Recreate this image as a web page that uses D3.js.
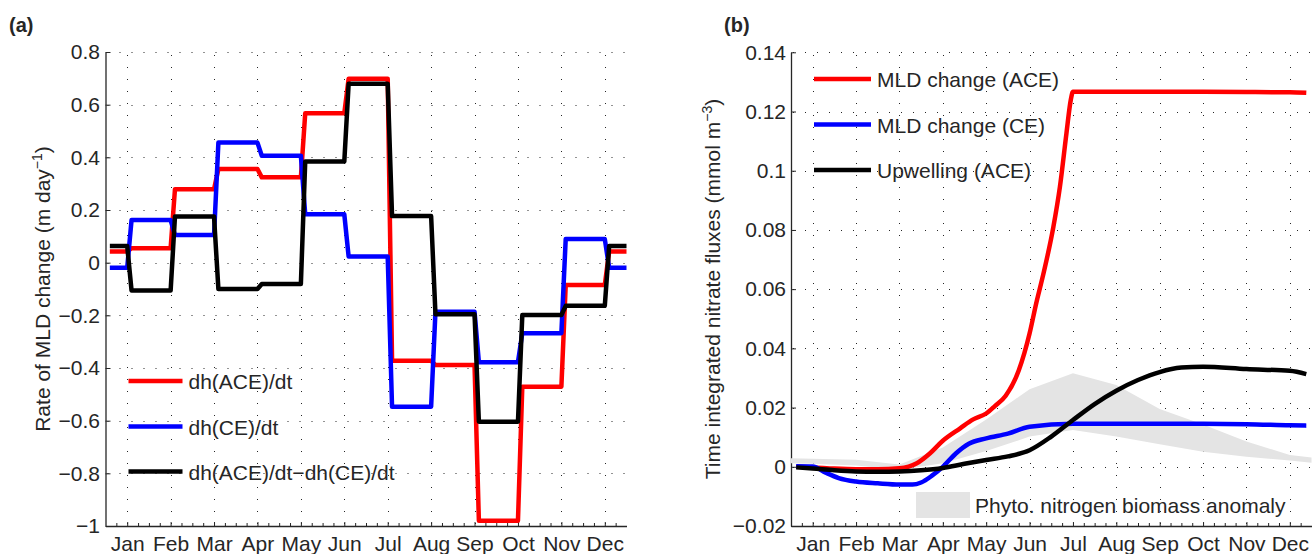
<!DOCTYPE html>
<html>
<head>
<meta charset="utf-8">
<script src="https://cdn.jsdelivr.net/npm/d3@7"></script>
<style>
  html, body { margin: 0; padding: 0; background: #ffffff; }
  svg { display: block; font-family: "Liberation Sans", Arial, Helvetica, sans-serif; }
</style>
</head>
<body>
<svg id="fig" width="1316" height="554"></svg>
<script>
// ---------- shared month axis ----------
const monthLabels = ["Jan", "Feb", "Mar", "Apr", "May", "Jun", "Jul", "Aug", "Sep", "Oct", "Nov", "Dec"];
const monthTicks = [1, 2, 3, 4, 5, 6, 7, 8, 9, 10, 11, 12];

// ---------- panel (a): rate of MLD change, piecewise-constant between month centres ----------
// index 0 = before Jan centre, 1..11 = Jan-Feb ... Nov-Dec, 12 = after Dec centre
const rateTicks = [-1, -0.8, -0.6, -0.4, -0.2, 0, 0.2, 0.4, 0.6, 0.8];
const rateTickLabels = ["\u22121", "\u22120.8", "\u22120.6", "\u22120.4", "\u22120.2", "0", "0.2", "0.4", "0.6", "0.8"];
const rateACE  = [0.042, 0.055, 0.279, 0.356, 0.324, 0.567, 0.698, -0.372, -0.389, -0.980, -0.471, -0.085, 0.042];
const rateCE   = [-0.019, 0.162, 0.105, 0.456, 0.406, 0.184, 0.023, -0.547, -0.186, -0.378, -0.268, 0.090, -0.019];
const rateDiff = [0.063, -0.106, 0.175, -0.100, -0.081, 0.384, 0.679, 0.177, -0.196, -0.604, -0.199, -0.164, 0.063];
const rateNames = ["dh(ACE)/dt", "dh(CE)/dt", "dh(ACE)/dt\u2212dh(CE)/dt"];

// ---------- panel (b): time integrated nitrate fluxes ----------
const fluxTicks = [-0.02, 0, 0.02, 0.04, 0.06, 0.08, 0.1, 0.12, 0.14];
const fluxTickLabels = ["\u22120.02", "0", "0.02", "0.04", "0.06", "0.08", "0.1", "0.12", "0.14"];

const mldAceMonth = [0.62, 1.0, 1.5, 2.0, 2.5, 3.0, 3.4, 3.7, 4.0, 4.4, 4.7, 5.0, 5.2, 5.45, 5.75, 6.0, 6.15, 6.3, 6.55, 6.7, 6.85, 6.95, 7.0, 8, 9, 10, 11, 12, 12.38];
const mldAceFlux  = [0.0, -0.0002, -0.0006, -0.0008, -0.0008, -0.0005, 0.0012, 0.0045, 0.0088, 0.0130, 0.0160, 0.0180, 0.0205, 0.0240, 0.0325, 0.0450, 0.0550, 0.0640, 0.0811, 0.0946, 0.1126, 0.1239, 0.1267, 0.1267, 0.1267, 0.1267, 0.1266, 0.1265, 0.1263];

const mldCeMonth = [0.62, 1.0, 1.3, 1.6, 2.0, 2.5, 3.0, 3.3, 3.5, 3.75, 4.0, 4.3, 4.6, 5.0, 5.5, 6.0, 7.0, 8, 9, 10, 11, 12, 12.38];
const mldCeFlux  = [0.0002, 0.0001, -0.0020, -0.0038, -0.0050, -0.0056, -0.0060, -0.0060, -0.0053, -0.0030, 0.0000, 0.0045, 0.0078, 0.0096, 0.0112, 0.0135, 0.0145, 0.0145, 0.0145, 0.0145, 0.0144, 0.0140, 0.0139];

const upwAceMonth = [0.62, 1.0, 1.5, 2.0, 2.5, 3.0, 3.5, 4.0, 4.5, 5.0, 5.5, 6.0, 6.5, 7.0, 7.5, 8.0, 8.5, 9.0, 9.5, 10, 11, 12, 12.38];
const upwAceFlux  = [-0.0002, -0.0006, -0.0012, -0.0016, -0.0017, -0.0016, -0.0012, -0.0004, 0.0010, 0.0023, 0.0035, 0.0056, 0.0102, 0.0158, 0.0212, 0.0257, 0.0293, 0.0320, 0.0335, 0.0338, 0.0330, 0.0324, 0.0313];

// phytoplankton nitrogen biomass anomaly envelope
const bandMonth = [0.5, 1, 2, 3, 4, 5, 6, 7, 8, 9, 10, 11, 12, 12.5];
const bandUpper = [0.0029, 0.0027, 0.0024, 0.0008, 0.0065, 0.0160, 0.0262, 0.0316, 0.0276, 0.0195, 0.0143, 0.0085, 0.0040, 0.0031];
const bandLower = [0.0012, 0.0010, 0.0004, -0.0010, 0.0012, 0.0053, 0.0102, 0.0124, 0.0102, 0.0076, 0.0051, 0.0034, 0.0021, 0.0014];

const fluxNames = ["MLD change (ACE)", "MLD change (CE)", "Upwelling (ACE)"];
const bandName = "Phyto. nitrogen biomass anomaly";

// ---------- styling ----------
const RED = "#ff0000", BLUE = "#0000ff", BLACK = "#000000";
const INK = "#262626";
const FONT = 21;
const LINE_W = 4.5;

const svg = d3.select("#fig");

// axes frame: dotted grid, inward ticks, labels
function drawFrame(x, y, yTicks, yLabels, yPad) {
  const g = svg.append("g");
  const [x0, x1] = x.range();
  const [yb, yt] = y.range();
  const crisp = v => Math.round(v) + 0.5;

  const grid = g.append("g")
    .attr("stroke", INK).attr("stroke-width", 1).attr("stroke-dasharray", "1,11");
  grid.selectAll("line.h").data(yTicks).join("line").attr("class", "h")
    .attr("x1", x0 + 2).attr("x2", x1)
    .attr("y1", d => crisp(y(d))).attr("y2", d => crisp(y(d)));
  grid.selectAll("line.v").data(monthTicks).join("line").attr("class", "v")
    .attr("x1", d => crisp(x(d))).attr("x2", d => crisp(x(d)))
    .attr("y1", yb - 2).attr("y2", yt);

  // minor month ticks every quarter month
  const minor = d3.range(0.75, 12.5, 0.25).filter(v => Math.abs(v - Math.round(v)) > 1e-6);
  g.append("g").attr("transform", `translate(0,${yb})`)
    .call(d3.axisBottom(x).tickValues(minor).tickSizeInner(-3).tickSizeOuter(0).tickFormat(""))
    .call(s => s.select(".domain").remove())
    .call(s => s.selectAll("line").attr("stroke", INK));

  const xAxis = g.append("g").attr("transform", `translate(0,${yb})`)
    .call(d3.axisBottom(x).tickValues(monthTicks).tickSizeInner(-4).tickSizeOuter(0)
      .tickPadding(10.5).tickFormat((d, i) => monthLabels[i]));
  const yAxis = g.append("g").attr("transform", `translate(${x0},0)`)
    .call(d3.axisLeft(y).tickValues(yTicks).tickSizeInner(-5).tickSizeOuter(0)
      .tickPadding(yPad).tickFormat((d, i) => yLabels[i]));
  [xAxis, yAxis].forEach(a => {
    a.select(".domain").attr("stroke", INK).attr("stroke-width", 1.3);
    a.selectAll(".tick line").attr("stroke", INK);
    a.selectAll(".tick text").attr("fill", INK).style("font-size", FONT + "px")
      .style("font-family", "'Liberation Sans', Arial, Helvetica, sans-serif");
  });
  return g;
}

function yLabel(xPos, yPos, main, sup) {
  const t = svg.append("text")
    .attr("transform", `translate(${xPos},${yPos}) rotate(-90)`)
    .attr("text-anchor", "middle").attr("fill", INK).style("font-size", FONT + "px");
  t.append("tspan").text(main);
  t.append("tspan").attr("dy", -8).style("font-size", "14px").text(sup);
  t.append("tspan").attr("dy", 8).text(")");
}

function panelTag(xPos, yPos, txt) {
  svg.append("text").attr("x", xPos).attr("y", yPos).attr("fill", INK)
    .style("font-size", "20px").style("font-weight", "bold").text(txt);
}

function legendEntry(g, x1, x2, y, color, label) {
  g.append("line").attr("x1", x1).attr("x2", x2).attr("y1", y).attr("y2", y)
    .attr("stroke", color).attr("stroke-width", LINE_W);
  g.append("text").attr("x", x2 + 6).attr("y", y + 8).attr("fill", INK)
    .style("font-size", FONT + "px").text(label);
}

// ================= panel (a) =================
const xa = d3.scaleLinear().domain([0.5, 12.5]).range([105.5, 626.5]);
const ya = d3.scaleLinear().domain([-1, 0.8]).range([526, 52]);
drawFrame(xa, ya, rateTicks, rateTickLabels, 5.5);

// step outline: value held between month centres, short ramp after each centre
function stepPoints(vals) {
  const pts = [[0.6, vals[0]]];
  monthTicks.forEach(m => { pts.push([m, vals[m - 1]]); pts.push([m + 0.1, vals[m]]); });
  pts.push([12.5, vals[12]]);
  return pts;
}
const stepLine = d3.line().x(d => xa(d[0])).y(d => ya(d[1]));
const ga = svg.append("g").attr("fill", "none").attr("stroke-width", LINE_W).attr("stroke-linejoin", "round");
[[rateACE, RED], [rateCE, BLUE], [rateDiff, BLACK]].forEach(([vals, c]) => {
  ga.append("path").attr("d", stepLine(stepPoints(vals))).attr("stroke", c);
});

const legA = svg.append("g");
legendEntry(legA, 128.5, 182.5, 381, RED, rateNames[0]);
legendEntry(legA, 128.5, 182.5, 426.5, BLUE, rateNames[1]);
legendEntry(legA, 128.5, 182.5, 471.5, BLACK, rateNames[2]);

yLabel(50, 289, "Rate of MLD change (m day", "\u22121");
panelTag(9, 32, "(a)");

// ================= panel (b) =================
const xb = d3.scaleLinear().domain([0.5, 12.5]).range([791, 1311.5]);
const yb = d3.scaleLinear().domain([-0.02, 0.14]).range([526, 52.3]);

// band is drawn below grid-free area first, then frame on top of the white background
const band = d3.area().x((d, i) => xb(bandMonth[i])).y0((d, i) => yb(bandLower[i])).y1((d, i) => yb(bandUpper[i]));
drawFrame(xb, yb, fluxTicks, fluxTickLabels, 5);
svg.append("path").attr("d", band(bandMonth)).attr("fill", "#e4e4e4").attr("stroke", "none");

const curve = (xs, ys) => d3.line().curve(d3.curveMonotoneX)
  .x((d, i) => xb(xs[i])).y((d, i) => yb(ys[i]))(xs);
const gb = svg.append("g").attr("fill", "none").attr("stroke-width", LINE_W).attr("stroke-linejoin", "round");
gb.append("path").attr("d", curve(mldAceMonth, mldAceFlux)).attr("stroke", RED);
gb.append("path").attr("d", curve(mldCeMonth, mldCeFlux)).attr("stroke", BLUE);
gb.append("path").attr("d", curve(upwAceMonth, upwAceFlux)).attr("stroke", BLACK);

const legB = svg.append("g");
legendEntry(legB, 814, 871, 79, RED, fluxNames[0]);
legendEntry(legB, 814, 871, 124.5, BLUE, fluxNames[1]);
legendEntry(legB, 814, 871, 170, BLACK, fluxNames[2]);
legB.append("rect").attr("x", 916).attr("y", 492).attr("width", 54).attr("height", 26).attr("fill", "#e4e4e4");
legB.append("text").attr("x", 975).attr("y", 513).attr("fill", INK).style("font-size", FONT + "px").text(bandName);

yLabel(720, 289, "Time integrated nitrate fluxes (mmol m", "\u22123");
panelTag(724, 32, "(b)");
</script>
</body>
</html>
